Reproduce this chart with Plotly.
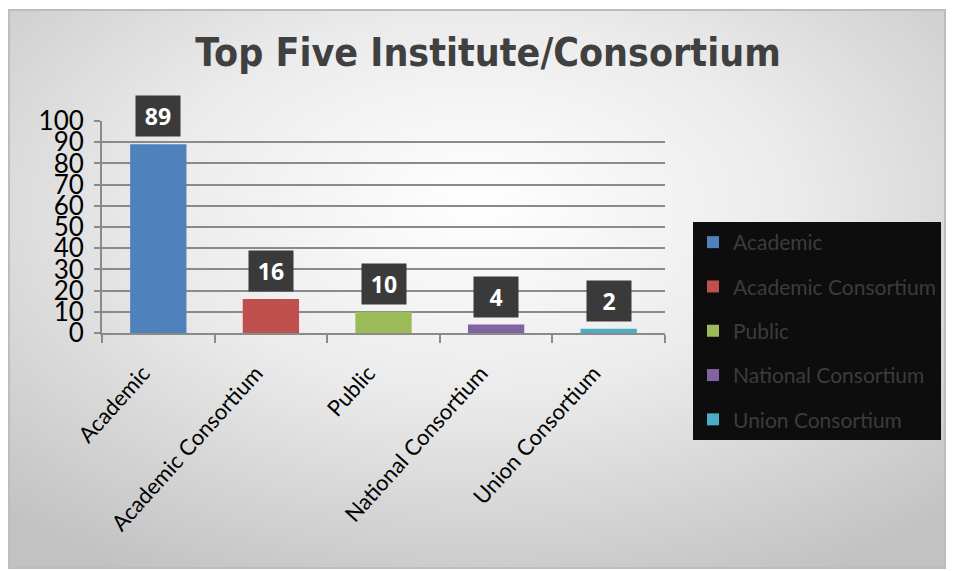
import base64
import plotly.graph_objects as go

categories = ["Academic", "Academic Consortium", "Public", "National Consortium", "Union Consortium"]
values = [89, 16, 10, 4, 2]
colors = ["#4F81BD", "#C0504D", "#9BBB59", "#8064A2", "#4BACC6"]
y_ticks = list(range(0, 101, 10))
title_text = "Top Five Institute/Consortium"

# page body has an 8px margin; figure pixel coords = screen coords - 8
W, H = 938, 563
L, R, T, B = 94, 657, 113, 325


def px2x(px):
    return (px - L) / (R - L)


def px2y(py):
    return (B - py) / (B - T)


svg = (
    '<svg xmlns="http://www.w3.org/2000/svg" width="938" height="558" preserveAspectRatio="none">'
    '<defs><radialGradient id="g" cx="0.5" cy="0.35" r="0.75">'
    '<stop offset="0" stop-color="#ffffff"/>'
    '<stop offset="0.45" stop-color="#ebebeb"/>'
    '<stop offset="1" stop-color="#c2c2c2"/>'
    '</radialGradient></defs>'
    '<rect width="938" height="558" fill="url(#g)"/></svg>'
)
bg_uri = "data:image/svg+xml;base64," + base64.b64encode(svg.encode()).decode()

fig = go.Figure()
for cat, val, col in zip(categories, values, colors):
    fig.add_trace(go.Bar(
        x=[cat], y=[val], name=cat, marker=dict(color=col, line=dict(width=0)),
        width=0.5, legendgroup=cat, showlegend=True,
    ))

for cat, val in zip(categories, values):
    fig.add_annotation(
        x=cat, y=val, xref="x", yref="y", text="<b>%d</b>" % val, showarrow=False,
        yanchor="bottom", yshift=7, width=44, height=40, bgcolor="#3a3a3a",
        borderpad=0, font=dict(family="Open Sans, Lato, sans-serif", size=23, color="white"),
    )

# trailing no-break spaces push the angled labels a little further from the axis
pad = "\u00a0" * 4

fig.update_layout(
    width=W, height=H,
    margin=dict(l=L, r=W - R, t=T, b=H - B, autoexpand=False),
    paper_bgcolor="white", plot_bgcolor="rgba(0,0,0,0)",
    barmode="overlay",
    title=dict(text="<b>" + title_text + "</b>", xref="container", x=(488 - 8) / W, xanchor="center",
               yref="container", y=1 - 44 / H, yanchor="middle",
               font=dict(family="DejaVu Sans Condensed, Liberation Sans Narrow, sans-serif", size=39, color="#404040")),
    xaxis=dict(
        type="category", categoryorder="array", categoryarray=categories,
        tickvals=categories, ticktext=[c + pad for c in categories],
        tickangle=-48, tickfont=dict(family="Lato, sans-serif", size=22, color="black"),
        showline=True, linecolor="#8a8a8a", linewidth=2, ticks="outside", tickson="boundaries",
        ticklen=8, tickcolor="#8a8a8a", tickwidth=2, showgrid=False, range=[-0.5, 4.5],
    ),
    yaxis=dict(
        range=[0, 100], tickvals=y_ticks, tickfont=dict(family="Lato, sans-serif", size=26, color="black"),
        ticklabelstandoff=5,
        showgrid=True, gridcolor="#8a8a8a", gridwidth=2, showline=True, linecolor="#8a8a8a", linewidth=2,
        ticks="outside", ticklen=6, tickcolor="#8a8a8a", tickwidth=2, zeroline=False,
    ),
    legend=dict(
        x=px2x(693 - 8), y=px2y(222 - 8), xanchor="left", yanchor="top", maxheight=400,
        bgcolor="#0d0d0d", font=dict(family="Lato, sans-serif", size=21, color="#3c3c3c"),
        tracegroupgap=14, itemsizing="constant",
    ),
    images=[dict(source=bg_uri, xref="paper", yref="paper", x=px2x(0), y=px2y(2),
                 sizex=px2x(W) - px2x(0), sizey=px2y(2) - px2y(560), sizing="stretch", layer="below")],
    shapes=[dict(type="rect", xref="paper", yref="paper", x0=px2x(1), x1=px2x(W - 1), y0=px2y(560), y1=px2y(2),
                 line=dict(color="#bdbdbd", width=2), layer="below")],
    showlegend=True,
)

fig.write_html("out.html")
